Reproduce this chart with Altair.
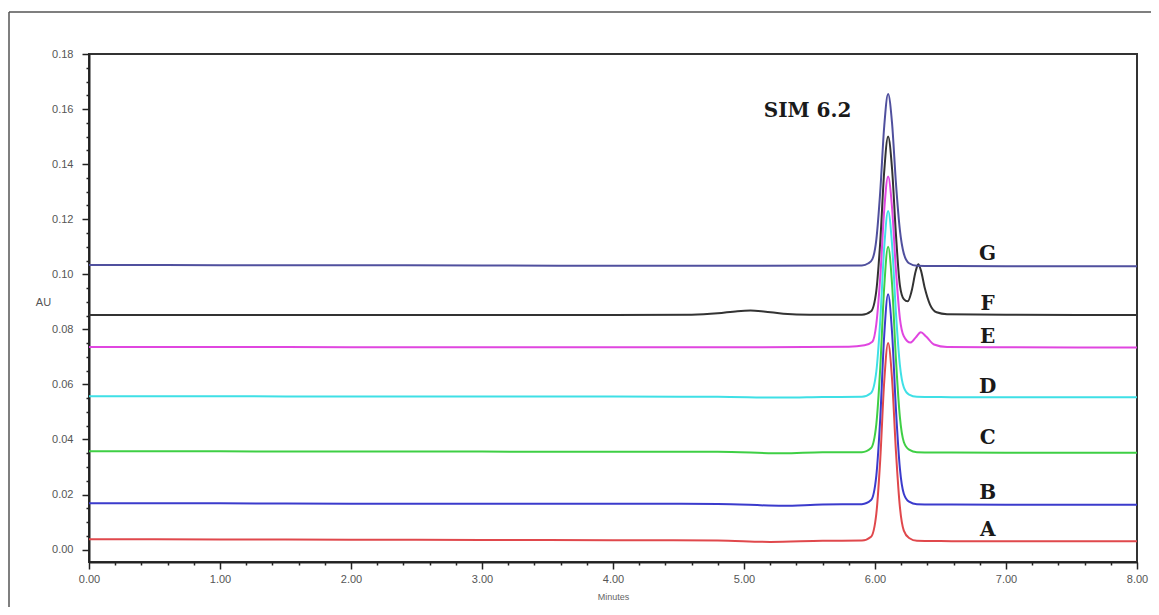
import altair as alt
import pandas as pd

# ---- data (time in minutes, absorbance in AU) ----
series_names = ["A", "B", "C", "D", "E", "F", "G"]
series_colors = ["#e0484c", "#3b3bcc", "#3fcf45", "#3fe0e6", "#e046e0", "#333333", "#50509e"]

time_A = [0, 1, 2, 3, 4, 4.8, 5.2, 5.6, 5.9, 5.97, 6.01, 6.04, 6.07, 6.1, 6.13, 6.16, 6.19, 6.22, 6.26, 6.32, 6.5, 7, 8]
au_A = [0.0038, 0.0037, 0.0036, 0.0035, 0.0034, 0.0033, 0.0028, 0.0032, 0.0033, 0.0047, 0.0130, 0.0327, 0.0607, 0.0750,
        0.0621, 0.0356, 0.0155, 0.0069, 0.0042, 0.0032, 0.0031, 0.0030, 0.0030]

time_B = [0, 1, 2, 3, 4, 4.8, 5.3, 5.6, 5.9, 5.97, 6.01, 6.04, 6.07, 6.1, 6.13, 6.16, 6.19, 6.22, 6.26, 6.32, 6.5, 7, 8]
au_B = [0.0168, 0.0168, 0.0167, 0.0167, 0.0167, 0.0166, 0.0159, 0.0164, 0.0165, 0.0180, 0.0268, 0.0477, 0.0775, 0.0927,
        0.0790, 0.0508, 0.0295, 0.0203, 0.0174, 0.0165, 0.0164, 0.0163, 0.0163]

time_C = [0, 1, 2, 3, 4, 4.8, 5.3, 5.6, 5.9, 5.97, 6.01, 6.04, 6.07, 6.1, 6.13, 6.16, 6.19, 6.22, 6.26, 6.32, 6.5, 7, 8]
au_C = [0.0357, 0.0357, 0.0356, 0.0356, 0.0355, 0.0355, 0.0350, 0.0354, 0.0354, 0.0369, 0.0455, 0.0660, 0.0951, 0.1100,
        0.0966, 0.0690, 0.0481, 0.0391, 0.0363, 0.0354, 0.0353, 0.0352, 0.0352]

time_D = [0, 1, 2, 3, 4, 4.8, 5.3, 5.6, 5.9, 5.97, 6.01, 6.04, 6.07, 6.1, 6.13, 6.16, 6.19, 6.22, 6.26, 6.32, 6.5, 7, 8]
au_D = [0.0557, 0.0557, 0.0556, 0.0556, 0.0556, 0.0555, 0.0552, 0.0554, 0.0555, 0.0569, 0.0646, 0.0832, 0.1095, 0.1230,
        0.1109, 0.0859, 0.0670, 0.0589, 0.0563, 0.0555, 0.0554, 0.0553, 0.0553]

time_E = [0, 1, 2, 3, 4, 5, 5.8, 5.92, 5.98, 6.01, 6.04, 6.07, 6.1, 6.13, 6.16, 6.19, 6.22, 6.27, 6.31, 6.35, 6.39,
          6.45, 6.55, 7, 8]
au_E = [0.0736, 0.0736, 0.0735, 0.0735, 0.0735, 0.0735, 0.0737, 0.0742, 0.0755, 0.0819, 0.0989, 0.1231, 0.1355, 0.1243,
        0.1014, 0.0840, 0.0775, 0.0752, 0.0770, 0.0789, 0.0774, 0.0745, 0.0736, 0.0735, 0.0734]

time_F = [0, 1, 2, 3, 4, 4.6, 4.8, 4.95, 5.05, 5.15, 5.3, 5.5, 5.9, 5.97, 6.01, 6.04, 6.07, 6.1, 6.13, 6.16, 6.19,
          6.22, 6.25, 6.28, 6.31, 6.33, 6.35, 6.38, 6.42, 6.47, 6.55, 7, 8]
au_F = [0.0852, 0.0852, 0.0852, 0.0852, 0.0852, 0.0853, 0.0858, 0.0866, 0.0868, 0.0865, 0.0857, 0.0853, 0.0853, 0.0866,
        0.0940, 0.1118, 0.1371, 0.1500, 0.1384, 0.1144, 0.0960, 0.0910, 0.0902, 0.0940, 0.1010, 0.1036, 0.1015, 0.0950,
        0.0890, 0.0862, 0.0855, 0.0853, 0.0852]

time_G = [0, 1, 2, 3, 4, 5, 5.9, 5.95, 5.98, 6.01, 6.04, 6.07, 6.1, 6.13, 6.16, 6.19, 6.22, 6.26, 6.32, 6.5, 7, 8]
au_G = [0.1034, 0.1033, 0.1033, 0.1032, 0.1031, 0.1031, 0.1032, 0.1040, 0.1055, 0.1125, 0.1300, 0.1535, 0.1655, 0.1550,
        0.1330, 0.1160, 0.1075, 0.1040, 0.1031, 0.1030, 0.1029, 0.1029]

label_text = ["G", "F", "E", "D", "C", "B", "A"]
label_time = [6.86, 6.86, 6.86, 6.86, 6.86, 6.86, 6.86]
label_au = [0.1074, 0.0892, 0.0772, 0.0590, 0.0405, 0.0205, 0.0071]

peak_label = ["SIM 6.2"]
peak_label_time = [5.485]
peak_label_au = [0.1593]

x_ticks = [round(i * 0.2, 1) for i in range(41)]
y_ticks = [round(i * 0.005, 3) for i in range(37)]

# ---- build table ----
times = {"A": time_A, "B": time_B, "C": time_C, "D": time_D, "E": time_E, "F": time_F, "G": time_G}
values = {"A": au_A, "B": au_B, "C": au_C, "D": au_D, "E": au_E, "F": au_F, "G": au_G}
rows = []
for name in series_names:
    for t, v in zip(times[name], values[name]):
        rows.append({"series": name, "time": t, "au": v})
df = pd.DataFrame(rows)

labels_df = pd.DataFrame({"text": label_text, "time": label_time, "au": label_au})
peak_df = pd.DataFrame({"text": peak_label, "time": peak_label_time, "au": peak_label_au})

x_scale = alt.Scale(domain=[0, 8], nice=False, zero=False)
y_scale = alt.Scale(domain=[-0.0045, 0.18], nice=False, zero=False)

major_x = "abs(datum.value - round(datum.value)) < 0.001"
major_y = "abs(datum.value * 50 - round(datum.value * 50)) < 0.001"

x_axis = alt.Axis(
    values=x_ticks,
    labelExpr=f"{major_x} ? format(datum.value, '.2f') : ''",
    tickSize={"condition": {"test": major_x, "value": 7}, "value": 3},
    labelOverlap=False,
    labelFlush=False,
    labelPadding=4,
    title="Minutes",
    titleFontSize=9,
    titleFontWeight="normal",
    titleColor="#666666",
    titleY=34,
    titleBaseline="middle",
    grid=False,
)
y_axis = alt.Axis(
    values=y_ticks,
    labelExpr=f"{major_y} ? format(datum.value, '.2f') : ''",
    tickSize={"condition": {"test": major_y, "value": 7}, "value": 3},
    labelOverlap=False,
    labelFlush=False,
    labelPadding=9,
    title="AU",
    titleAngle=0,
    titleX=-46,
    titleY=248,
    titleAlign="center",
    titleBaseline="middle",
    titleFontSize=11,
    titleFontWeight="normal",
    titleColor="#555555",
    grid=False,
)

enc_x = alt.X("time:Q", scale=x_scale, axis=x_axis)
enc_y = alt.Y("au:Q", scale=y_scale, axis=y_axis)

lines = alt.Chart(df).mark_line(strokeWidth=2, interpolate="monotone").encode(
    x=enc_x,
    y=enc_y,
    color=alt.Color("series:N", scale=alt.Scale(domain=series_names, range=series_colors), legend=None),
    detail="series:N",
)

letters = alt.Chart(labels_df).mark_text(
    font="DejaVu Serif", fontSize=20, fontWeight="bold", color="#1a1a1a", align="center", baseline="middle"
).encode(x=enc_x, y=enc_y, text="text:N")

peak_text = alt.Chart(peak_df).mark_text(
    font="DejaVu Serif", fontSize=20, fontWeight="bold", color="#1a1a1a", align="center", baseline="middle"
).encode(x=enc_x, y=enc_y, text="text:N")

# outer picture frame (decoration)
frame_top = alt.Chart(peak_df).mark_rule(color="#555555", strokeWidth=1.5).encode(
    x=alt.value(-80), x2=alt.value(1062), y=alt.value(-42)
)
frame_left = alt.Chart(peak_df).mark_rule(color="#555555", strokeWidth=1.5).encode(
    x=alt.value(-80), y=alt.value(-42), y2=alt.value(600)
)

chart = alt.layer(lines, letters, peak_text, frame_top, frame_left).properties(
    width=1048,
    height=508,
    autosize=alt.AutoSizeParams(type="none"),
    padding={"left": 81, "top": 46, "right": 14, "bottom": 45},
).configure_view(
    stroke="#333333", strokeWidth=2
).configure_axis(
    domainColor="#222222",
    domainWidth=2,
    tickColor="#222222",
    tickWidth=1.5,
    labelColor="#555555",
    labelFont="Liberation Sans",
    labelFontSize=11,
    titleFont="Liberation Sans",
)

chart.save("out.html", embed_options={"renderer": "svg", "actions": False})
